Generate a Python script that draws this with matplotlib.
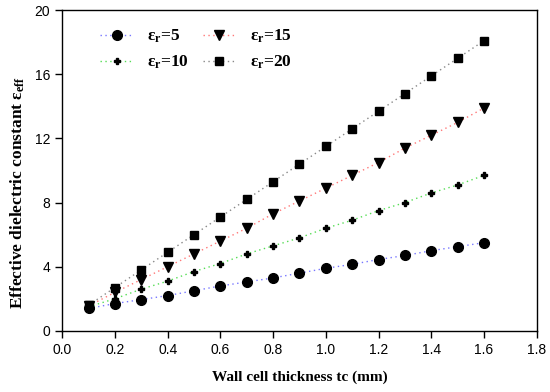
import matplotlib
matplotlib.use("Agg")
import matplotlib.pyplot as plt

plt.rcParams['mathtext.fontset'] = 'custom'
plt.rcParams['mathtext.rm'] = 'Liberation Serif'
plt.rcParams['mathtext.it'] = 'Liberation Serif:italic'
plt.rcParams['mathtext.bf'] = 'Liberation Serif:bold'

thickness = [0.1, 0.2, 0.3, 0.4, 0.5, 0.6, 0.7, 0.8, 0.9, 1.0, 1.1, 1.2, 1.3, 1.4, 1.5, 1.6]
eps5 = [1.4, 1.7, 1.95, 2.2, 2.5, 2.8, 3.05, 3.3, 3.6, 3.9, 4.15, 4.45, 4.7, 5.0, 5.25, 5.5]
eps10 = [1.5, 2.0, 2.6, 3.1, 3.7, 4.2, 4.8, 5.3, 5.8, 6.4, 6.9, 7.5, 8.0, 8.6, 9.1, 9.7]
eps15 = [1.55, 2.4, 3.2, 4.0, 4.8, 5.6, 6.4, 7.3, 8.1, 8.9, 9.7, 10.5, 11.4, 12.2, 13.0, 13.9]
eps20 = [1.6, 2.7, 3.8, 4.9, 6.0, 7.1, 8.2, 9.3, 10.4, 11.5, 12.6, 13.7, 14.8, 15.9, 17.0, 18.1]
xticks = [0.0, 0.2, 0.4, 0.6, 0.8, 1.0, 1.2, 1.4, 1.6, 1.8]
yticks = [0, 4, 8, 12, 16, 20]

fig = plt.figure(figsize=(5.5, 3.92), dpi=100)
ax = fig.add_axes([0.113, 0.156, 0.863, 0.818])

serif = {'family': 'Liberation Serif', 'weight': 'bold'}
dash = (0, (1, 2.5))

ax.plot(thickness, eps5, linestyle=dash, lw=1, color='#7777ff', marker='o', markersize=7,
        markerfacecolor='black', markeredgecolor='black', label=r'$\mathbf{\varepsilon_r}$=5')
ax.plot(thickness, eps10, linestyle=dash, lw=1, color='#55dd55', marker='P', markersize=4,
        markerfacecolor='black', markeredgecolor='black', label=r'$\mathbf{\varepsilon_r}$=10')
ax.plot(thickness, eps15, linestyle=dash, lw=1, color='#ff7777', marker='v', markersize=7.5,
        markerfacecolor='black', markeredgecolor='black', label=r'$\mathbf{\varepsilon_r}$=15')
ax.plot(thickness, eps20, linestyle=dash, lw=1, color='#888888', marker='s', markersize=6,
        markerfacecolor='black', markeredgecolor='black', label=r'$\mathbf{\varepsilon_r}$=20')

ax.set_xlim(0, 1.8)
ax.set_ylim(0, 20)
ax.set_xticks(xticks)
ax.set_yticks(yticks)
ax.set_xticklabels([f"{v:.1f}" for v in xticks], family='Liberation Sans', fontsize=10)
ax.set_yticklabels([str(v) for v in yticks], family='Liberation Sans', fontsize=10)
ax.tick_params(direction='out', length=5, width=1)
for s in ax.spines.values():
    s.set_linewidth(1)

ax.set_xlabel('Wall cell thickness tc (mm)', fontdict=serif, fontsize=11, labelpad=10)
ax.set_ylabel(r'Effective dielectric constant $\mathbf{\varepsilon_{eff}}$', fontdict=serif, fontsize=12.5)
ax.yaxis.set_label_coords(-0.075, 0.43)

leg = ax.legend(loc='upper left', ncol=2, frameon=False, bbox_to_anchor=(0.08, 0.945),
                borderaxespad=0, borderpad=0,
                prop={'family': 'Liberation Serif', 'weight': 'bold', 'size': 12.5},
                handlelength=1.9, handletextpad=0.8, columnspacing=0.8, labelspacing=0.5)

fig.savefig('out.png', dpi=100)
